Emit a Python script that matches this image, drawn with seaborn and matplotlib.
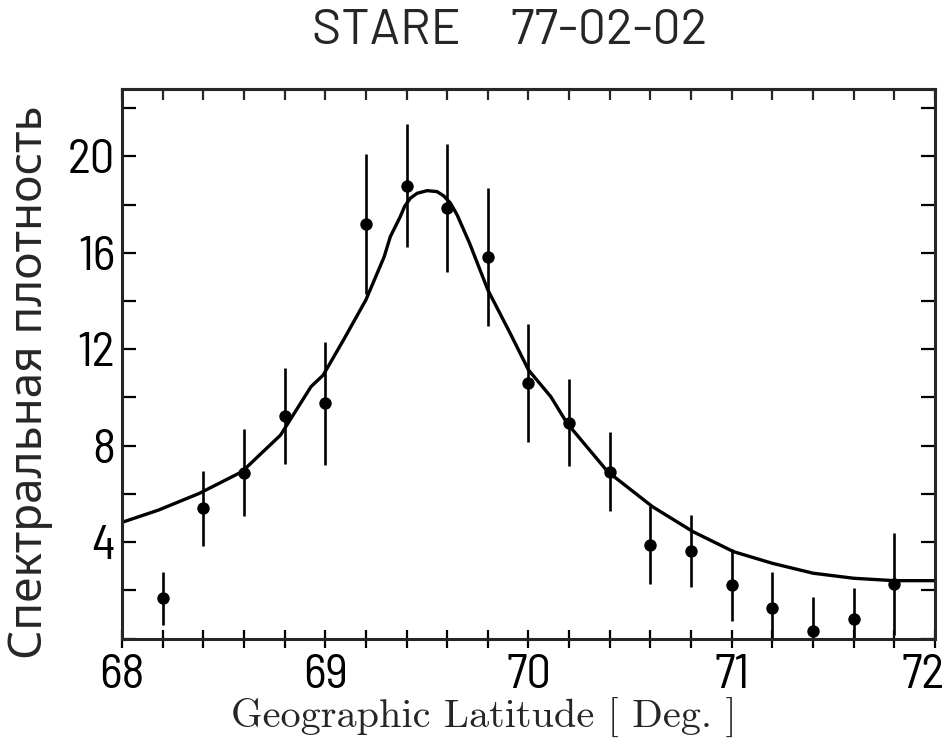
import numpy as np
import pandas as pd
import matplotlib
matplotlib.use("Agg")
import matplotlib.pyplot as plt
import matplotlib.transforms as mtransforms
import seaborn as sns
from matplotlib.ticker import MultipleLocator, NullFormatter

# ---- data ----
lat_points = [68.2, 68.4, 68.6, 68.8, 69.0, 69.2, 69.4, 69.6, 69.8, 70.0,
              70.2, 70.4, 70.6, 70.8, 71.0, 71.2, 71.4, 71.6, 71.8]
density_points = [1.67, 5.40, 6.88, 9.23, 9.76, 17.19, 18.79, 17.85, 15.82, 10.59,
                  8.95, 6.92, 3.88, 3.64, 2.22, 1.25, 0.32, 0.80, 2.26]
density_err = [1.1, 1.55, 1.8, 2.0, 2.55, 2.9, 2.55, 2.65, 2.85, 2.45,
               1.8, 1.65, 1.6, 1.5, 1.5, 1.5, 1.4, 1.3, 2.1]

lat_fit = [68.00, 68.18, 68.38, 68.59, 68.78, 68.93, 68.99, 69.09, 69.20, 69.29,
           69.32, 69.369, 69.39, 69.419, 69.452, 69.501, 69.55, 69.583, 69.616,
           69.649, 69.71, 69.80, 69.91, 70.00, 70.11, 70.19, 70.39, 70.61, 70.81,
           71.01, 71.20, 71.40, 71.60, 71.80, 72.00]
density_fit = [4.82, 5.33, 6.02, 6.92, 8.44, 10.45, 10.93, 12.39, 14.05, 15.84,
               16.67, 17.50, 17.92, 18.27, 18.47, 18.58, 18.54, 18.36, 18.06,
               17.57, 16.40, 14.46, 12.66, 11.14, 10.03, 8.93, 6.92, 5.47, 4.43,
               3.60, 3.12, 2.71, 2.50, 2.40, 2.40]

x_ticks = [68, 69, 70, 71, 72]
y_ticks = [4, 8, 12, 16, 20]

title_text = "STARE     77-02-02"
x_label = "Geographic Latitude [ Deg. ]"
y_label = "Спектральная плотность"

# ---- plotting ----
sns.set_style("ticks")
plt.rcParams['font.family'] = ['Barlow Semi Condensed', 'Liberation Sans', 'DejaVu Sans']

df_pts = pd.DataFrame({"lat": lat_points, "dens": density_points, "err": density_err})
df_fit = pd.DataFrame({"lat": lat_fit, "dens": density_fit})

fig = plt.figure(figsize=(9.49, 7.41), dpi=100)
ax = fig.add_axes([0.1286, 0.1383, 0.8566, 0.7417])

sns.lineplot(data=df_fit, x="lat", y="dens", ax=ax, color="black", linewidth=2.4,
             sort=False, estimator=None)
ax.errorbar(df_pts["lat"], df_pts["dens"], yerr=df_pts["err"], fmt="none",
            ecolor="black", elinewidth=1.9, capsize=0)
sns.scatterplot(data=df_pts, x="lat", y="dens", ax=ax, color="black", s=80,
                edgecolor="black", linewidth=0, zorder=5)

ax.set_xlim(68, 72)
ax.set_ylim(0, 22.8)

ax.set_xticks(x_ticks)
ax.xaxis.set_minor_locator(MultipleLocator(0.2))
ax.set_yticks(y_ticks)
ax.yaxis.set_minor_locator(MultipleLocator(2))

for s in ax.spines.values():
    s.set_linewidth(2.2)
    s.set_visible(True)

ax.tick_params(axis="x", which="both", direction="inout", length=13, width=1.6,
               bottom=True, top=False, labelsize=35, pad=5, colors="black")
ax.tick_params(axis="y", which="both", direction="in", length=10, width=1.6,
               left=True, right=True, labelsize=35, pad=5, colors="black")

# shift the last x label inwards a little, as in the reference
fig.canvas.draw()
last = ax.get_xticklabels()[-1]
last.set_transform(last.get_transform() +
                   mtransforms.ScaledTranslation(-12 / 100, 0, fig.dpi_scale_trans))

top = ax.secondary_xaxis("top")
top.xaxis.set_major_locator(MultipleLocator(0.2))
top.xaxis.set_major_formatter(NullFormatter())
top.tick_params(axis="x", direction="in", length=8, width=1.6)
top.spines["top"].set_linewidth(2.2)

ax.set_xlabel(x_label, family="cmr10", fontsize=29)
ax.xaxis.set_label_coords(0.445, -0.145)
ax.xaxis.label.set_va("center")

ax.set_ylabel(y_label, family=["Noto Sans", "DejaVu Sans"], fontsize=33)
ax.yaxis.set_label_coords(-0.113, 0.467)
ax.yaxis.label.set_va("center")

fig.text(510 / 949, 1 - 31 / 741, title_text, ha="center", va="center",
         fontsize=36, family=["Barlow", "Liberation Sans", "DejaVu Sans"])

fig.savefig("out.png", dpi=100, facecolor="white")
